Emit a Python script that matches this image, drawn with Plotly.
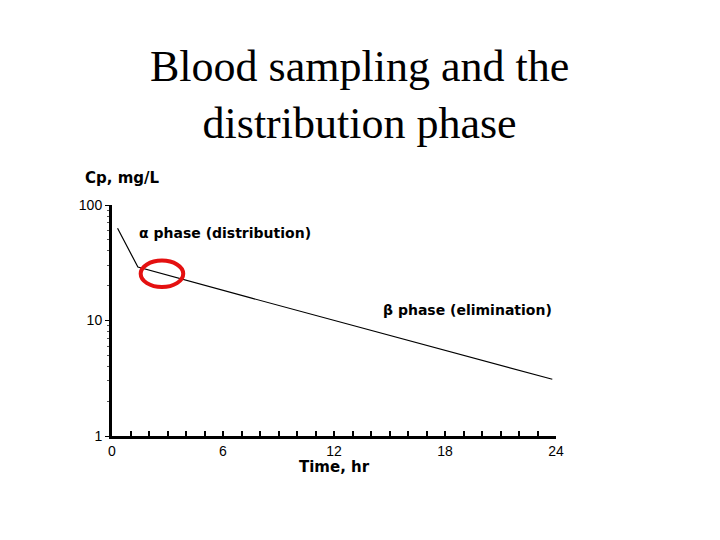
import plotly.graph_objects as go

# Data
time_hr = [0.3, 1.4, 7.5, 23.8]
cp_mgL = [63, 29, 15.7, 3.1]
x_ticks = [0, 6, 12, 18, 24]
y_ticks = [1, 10, 100]
y_minor = [2, 3, 4, 5, 6, 7, 8, 9, 20, 30, 40, 50, 60, 70, 80, 90]

fig = go.Figure()
fig.add_trace(go.Scatter(x=time_hr, y=cp_mgL, mode="lines",
                         line=dict(color="black", width=1.2),
                         showlegend=False, hoverinfo="skip"))

sans = "DejaVu Sans, Liberation Sans, Arial, sans-serif"
lab_font = dict(family=sans, size=14, color="black")

fig.update_layout(
    width=720, height=540,
    paper_bgcolor="white", plot_bgcolor="white",
    margin=dict(l=112, r=164, t=205, b=104),
    xaxis=dict(range=[0, 24], tickvals=x_ticks, ticks="inside", ticklen=5,
               tickwidth=2, tickcolor="black", showline=True, linecolor="black",
               linewidth=3, showgrid=False, zeroline=False,
               tickfont=dict(family="Liberation Sans, Arial, sans-serif", size=14, color="black"),
               minor=dict(dtick=1, ticks="inside", ticklen=5, tickwidth=2, tickcolor="black")),
    yaxis=dict(type="log", range=[0, 2], tickvals=y_ticks, ticktext=["1", "10", "100"],
               ticks="outside", ticklen=4, tickwidth=1, tickcolor="black",
               showline=True, linecolor="black", linewidth=3, showgrid=False,
               zeroline=False,
               tickfont=dict(family="Liberation Sans, Arial, sans-serif", size=14, color="black"),
               minor=dict(tickvals=y_minor, ticks="outside", ticklen=2, tickwidth=1, tickcolor="#555")),
    annotations=[
        dict(text="Blood sampling and the<br>distribution phase", xref="paper", yref="paper",
             x=0.557, y=1.0, yshift=110, showarrow=False, xanchor="center", yanchor="middle",
             font=dict(family="Liberation Serif, Times New Roman, serif", size=44, color="black")),
        dict(text="<b>Cp, mg/L</b>", xref="paper", yref="paper", x=-0.065, y=1.0, yshift=16,
             xanchor="left", yanchor="bottom", showarrow=False,
             font=dict(family=sans, size=15, color="black")),
        dict(text="<b>Time, hr</b>", xref="paper", yref="paper", x=0.5, y=0, yshift=-20,
             xanchor="center", yanchor="top", showarrow=False,
             font=dict(family=sans, size=15, color="black")),
        dict(text="<b>α phase (distribution)</b>", xref="paper", yref="paper", x=0.056, y=0.88,
             xanchor="left", yanchor="middle", showarrow=False, font=lab_font),
        dict(text="<b>β phase (elimination)</b>", xref="paper", yref="paper", x=0.995, y=0.544,
             xanchor="right", yanchor="middle", showarrow=False, font=lab_font),
    ],
    shapes=[
        dict(type="circle", xref="x", yref="y", x0=1.55, x1=3.85, y0=19.5, y1=33,
             line=dict(color="#e41010", width=4)),
    ],
)

fig.write_html("out.html")
